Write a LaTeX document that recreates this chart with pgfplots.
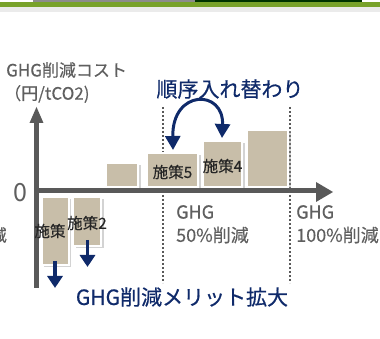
\documentclass[border=0pt]{standalone}
\usepackage{pgfplots}
\pgfplotsset{compat=1.18}
\usepackage{fontspec}
\setmainfont{Noto Sans CJK JP}
\newfontfamily\jpb[FakeBold=0.6]{Noto Sans CJK JP}
\newfontfamily\jpm[FakeBold=0.3]{Noto Sans CJK JP}
\usetikzlibrary{arrows.meta,shadows}
\definecolor{tan}{HTML}{C8BEA9}
\definecolor{axgray}{HTML}{595959}
\definecolor{txtgray}{HTML}{5F5F5F}
\definecolor{navy}{HTML}{0F2A6A}
\definecolor{grn}{HTML}{78A22A}
\begin{document}
\begin{tikzpicture}
\begin{axis}[
  scale only axis, width=380pt, height=339pt,
  xmin=0, xmax=380, ymin=-339, ymax=0,
  hide axis, clip=false,
  bar/.style={fill=tan, draw=white, line width=2.5pt, line join=miter,
    drop shadow={shadow xshift=2.5pt, shadow yshift=-2.5pt, opacity=0.22, fill=black}},
]
% top decoration
\fill[black!8] (axis cs:0,-7) rectangle (axis cs:380,-12);
\fill[grn] (axis cs:0,-2.5) rectangle (axis cs:380,-7);
\fill[black!45] (axis cs:33,0) rectangle (axis cs:195,-2.5);
\fill[black!80!green] (axis cs:195,0) rectangle (axis cs:362,-2.5);
% dotted guides
\draw[axgray, line width=1.8pt, dash pattern=on 1.6pt off 2.4pt] (axis cs:163,-107) -- (axis cs:163,-283);
\draw[axgray, line width=1.8pt, dash pattern=on 1.6pt off 2.4pt] (axis cs:290,-107) -- (axis cs:290,-283);
% bars
\addplot[bar] coordinates {(42,-197) (69,-197) (69,-265) (42,-265)} -- cycle;
\addplot[bar] coordinates {(73,-197) (101,-197) (101,-246) (73,-246)} -- cycle;
\addplot[bar] coordinates {(106,-163) (138,-163) (138,-187) (106,-187)} -- cycle;
\addplot[bar] coordinates {(147,-153) (198,-153) (198,-187) (147,-187)} -- cycle;
\addplot[bar] coordinates {(203,-141) (242,-141) (242,-187) (203,-187)} -- cycle;
\addplot[bar] coordinates {(247,-130) (288,-130) (288,-187) (247,-187)} -- cycle;
% axes
\draw[axgray, line width=5pt] (axis cs:36.5,-120) -- (axis cs:36.5,-288);
\fill[axgray] (axis cs:36.5,-107) -- (axis cs:29.5,-123) -- (axis cs:43.5,-123) -- cycle;
\draw[axgray, line width=5pt] (axis cs:34,-191) -- (axis cs:318,-191);
\fill[axgray] (axis cs:333,-192) -- (axis cs:316,-182) -- (axis cs:316,-202) -- cycle;
% down arrows
\draw[navy, line width=3.5pt, -{Triangle[width=15pt,length=12pt]}] (axis cs:55,-261) -- (axis cs:55,-288);
\draw[navy, line width=3.5pt, -{Triangle[width=15pt,length=12pt]}] (axis cs:87.5,-240) -- (axis cs:87.5,-267);
% swap arrow
\draw[navy, line width=3pt, {Triangle[width=15pt,length=14pt]}-{Triangle[width=15pt,length=14pt]}]
  (axis cs:173,-150) .. controls (axis cs:172,-89) and (axis cs:224,-89) .. (axis cs:222,-138);
% texts
\node[anchor=west, inner sep=0, text=txtgray, font=\jpm\fontsize{17}{20}\selectfont] at (axis cs:6,-70) {GHG削減コスト};
\node[anchor=west, inner sep=0, text=txtgray, font=\jpm\fontsize{17}{20}\selectfont] at (axis cs:4,-94) {（円/tCO2)};
\node[anchor=center, inner sep=0, text=txtgray, font=\fontsize{25}{28}\selectfont] at (axis cs:20,-193) {0};
\node[anchor=east, inner sep=0, text=txtgray, font=\jpm\fontsize{17}{20}\selectfont] at (axis cs:7,-235) {削減};
\node[anchor=west, inner sep=0, text=txtgray, font=\jpm\fontsize{18}{21}\selectfont] at (axis cs:176,-212) {GHG};
\node[anchor=west, inner sep=0, text=txtgray, font=\jpm\fontsize{18}{21}\selectfont] at (axis cs:176,-235) {50\%削減};
\node[anchor=west, inner sep=0, text=txtgray, font=\jpm\fontsize{18}{21}\selectfont] at (axis cs:296,-212) {GHG};
\node[anchor=west, inner sep=0, text=txtgray, font=\jpm\fontsize{18}{21}\selectfont] at (axis cs:296,-235) {100\%削減};
\node[inner sep=0, text=black!85, font=\jpm\fontsize{15.5}{18}\selectfont] at (axis cs:50,-231) {施策};
\node[inner sep=0, text=black!85, font=\jpm\fontsize{15.5}{18}\selectfont] at (axis cs:87,-223) {施策2};
\node[inner sep=0, text=black!85, font=\jpm\fontsize{15.5}{18}\selectfont] at (axis cs:172.5,-172) {施策5};
\node[inner sep=0, text=black!85, font=\jpm\fontsize{15.5}{18}\selectfont] at (axis cs:222.5,-166) {施策4};
\node[inner sep=0, text=navy, font=\jpb\fontsize{21}{24}\selectfont] at (axis cs:230,-89) {順序入れ替わり};
\node[inner sep=0, text=navy, font=\jpb\fontsize{21}{24}\selectfont] at (axis cs:182,-297) {GHG削減メリット拡大};
\end{axis}
\pgfresetboundingbox
\useasboundingbox (0,0) rectangle (380pt,339pt);
\end{tikzpicture}
\end{document}
